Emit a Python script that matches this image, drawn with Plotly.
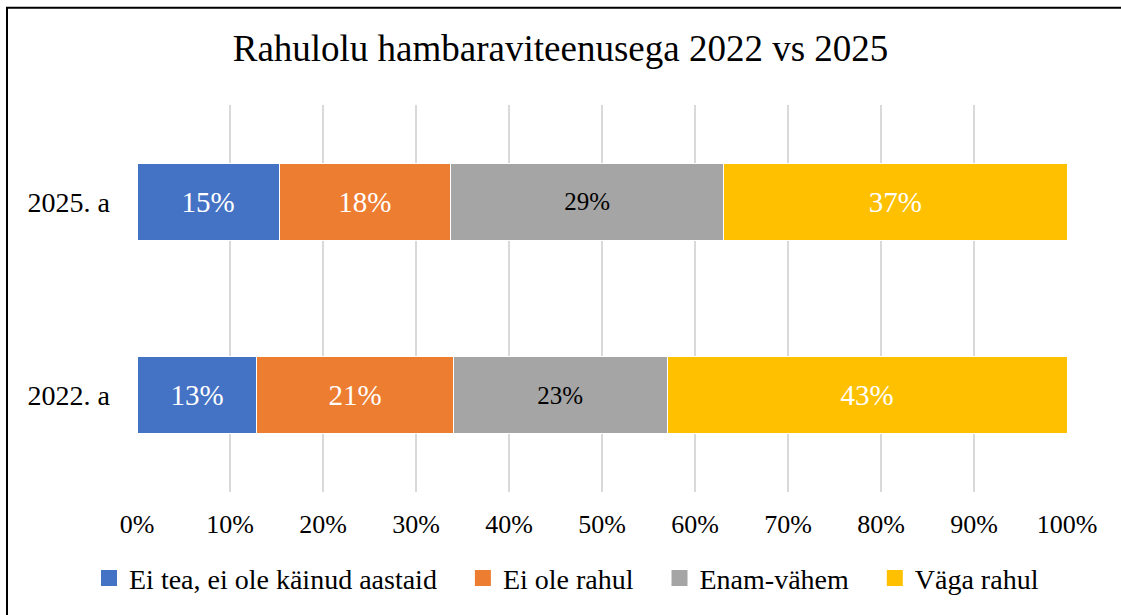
import plotly.graph_objects as go

years = ["2022. a", "2025. a"]
series = ["Ei tea, ei ole käinud aastaid", "Ei ole rahul", "Enam-vähem", "Väga rahul"]
values = {
    "Ei tea, ei ole käinud aastaid": [12.9, 15.3],
    "Ei ole rahul": [21.1, 18.4],
    "Enam-vähem": [23.0, 29.4],
    "Väga rahul": [43.0, 36.9],
}
colors = ["#4472C4", "#ED7D31", "#A5A5A5", "#FFC000"]
label_colors = ["white", "white", "black", "white"]
label_sizes = [29, 29, 25, 29]
xticks = [0, 10, 20, 30, 40, 50, 60, 70, 80, 90, 100]
xticklabels = [f"{t}%" for t in xticks]

FONT = "Liberation Serif, Times New Roman, serif"
PAD = "\u00a0\u00a0\u00a0"

fig = go.Figure()
for s, c, lc, ls in zip(series, colors, label_colors, label_sizes):
    fig.add_trace(go.Bar(
        y=years, x=values[s], name=s, orientation="h",
        marker=dict(color=c, line=dict(color="white", width=1)),
        width=0.4, showlegend=False,
        texttemplate="%{x:.0f}%", textposition="inside", insidetextanchor="middle",
        textfont=dict(family=FONT, size=ls, color=lc),
        hoverinfo="x+name",
    ))
# legend entries with larger square swatches
for i, (s, c) in enumerate(zip(series, colors)):
    fig.add_trace(go.Scatter(
        x=[None], y=[None], mode="markers", name=s + (PAD if i < len(series) - 1 else ""),
        marker=dict(symbol="square", size=16, color=c), hoverinfo="skip",
    ))

W, H = 1121, 615
L, T, PW, PH = 137, 105, 930, 390
fig.update_layout(
    barmode="stack",
    width=W, height=H,
    margin=dict(l=L, r=W - L - PW, t=T, b=H - T - PH),
    paper_bgcolor="white", plot_bgcolor="white",
    font=dict(family=FONT, color="black"),
    title=dict(text="Rahulolu hambaraviteenusega 2022 vs 2025", x=0.5, xanchor="center",
               y=1 - 48 / H, yanchor="middle", font=dict(size=37, color="black", family=FONT)),
    xaxis=dict(range=[0, 100], tickvals=xticks, ticktext=xticklabels, showgrid=True,
               gridcolor="#d9d9d9", gridwidth=2, zeroline=False, showline=False,
               tickfont=dict(size=26, family=FONT), ticklabelstandoff=14, fixedrange=True),
    yaxis=dict(type="category", categoryorder="array", categoryarray=years, range=[-0.5, 1.5],
               showgrid=False, zeroline=False, showline=False,
               tickfont=dict(size=28, family=FONT), ticklabelstandoff=26, fixedrange=True),
    legend=dict(orientation="h", x=-48 / PW, xanchor="left", y=-87 / PH, yanchor="middle",
                font=dict(size=28, family=FONT), traceorder="normal", itemclick=False,
                itemsizing="trace"),
    shapes=[dict(type="rect", xref="paper", yref="paper", x0=-130 / PW, x1=1.3,
                 y0=-0.5, y1=1 + 98 / PH, line=dict(color="black", width=2), layer="below")],
)

fig.write_html("out.html", config={"displayModeBar": False},
               post_script="document.body.style.margin='0';")
